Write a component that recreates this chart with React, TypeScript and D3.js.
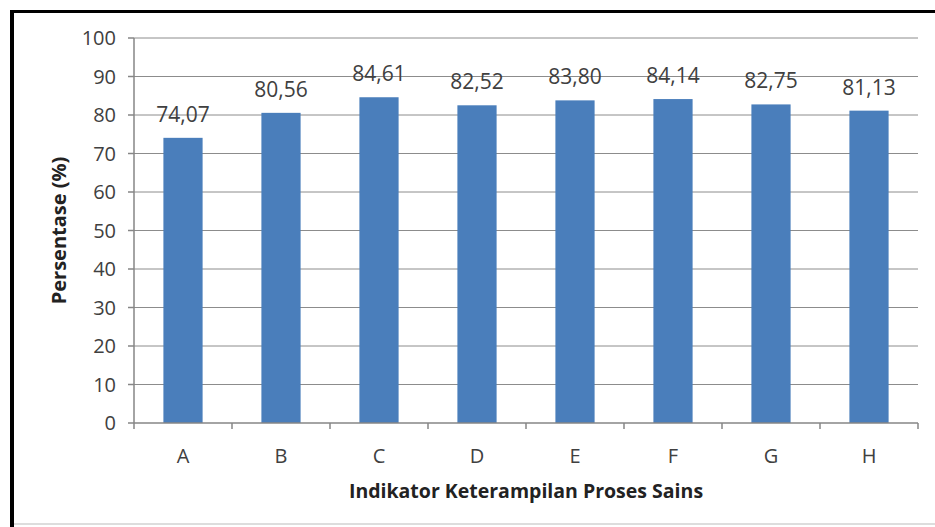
import React from "react";
import * as d3 from "d3";

const categories = ["A", "B", "C", "D", "E", "F", "G", "H"];
const values = [74.07, 80.56, 84.61, 82.52, 83.8, 84.14, 82.75, 81.13];
const valueLabels = ["74,07", "80,56", "84,61", "82,52", "83,80", "84,14", "82,75", "81,13"];
const yTicks = [0, 10, 20, 30, 40, 50, 60, 70, 80, 90, 100];
const xTitle = "Indikator Keterampilan Proses Sains";
const yTitle = "Persentase (%)";

const W = 935;
const H = 527;
const left = 134;
const right = 918;
const top = 38;
const bottom = 423;
const font = "'Open Sans', Lato, sans-serif";
const textColor = "#404040";

export default function App() {
  const x = d3.scaleBand<string>().domain(categories).range([left, right]).paddingInner(0.6).paddingOuter(0.3);
  const xb = d3.scaleBand<string>().domain(categories).range([left, right]);
  const y = d3.scaleLinear().domain([0, 100]).range([bottom, top]);

  return (
    <svg width={W} height={H} style={{ position: "absolute", left: 0, top: 0, background: "#fff" }}>
      <rect x={0} y={0} width={W} height={H} fill="#fff" />
      {/* frame */}
      <line x1={12} x2={W} y1={11.5} y2={11.5} stroke="#000" strokeWidth={3} />
      <line x1={12} x2={12} y1={10} y2={H} stroke="#000" strokeWidth={4} />
      <line x1={14} x2={W} y1={524} y2={524} stroke="#ddd" strokeWidth={2} />
      {/* gridlines */}
      {yTicks.filter((t) => t > 0).map((t) => (
        <line key={t} x1={left} x2={right} y1={y(t)} y2={y(t)} stroke="#8c8c8c" strokeWidth={1} />
      ))}
      {/* bars */}
      {categories.map((c, i) => (
        <rect key={c} x={x(c)!} y={y(values[i])} width={x.bandwidth()} height={y(0) - y(values[i])} fill="#4a7ebb" />
      ))}
      {/* axes */}
      <line x1={left} x2={left} y1={top} y2={bottom} stroke="#868686" strokeWidth={1.5} />
      <line x1={left} x2={right} y1={bottom} y2={bottom} stroke="#868686" strokeWidth={1.5} />
      {yTicks.map((t) => (
        <g key={t}>
          <line x1={left - 6} x2={left} y1={y(t)} y2={y(t)} stroke="#868686" strokeWidth={1.5} />
          <text x={116} y={y(t)} dy="0.35em" textAnchor="end" fontFamily={font} fontSize={20} fill={textColor}>
            {t}
          </text>
        </g>
      ))}
      {categories.map((c) => (
        <line key={"t" + c} x1={xb(c)!} x2={xb(c)!} y1={bottom} y2={bottom + 6} stroke="#868686" strokeWidth={1.5} />
      ))}
      <line x1={right} x2={right} y1={bottom} y2={bottom + 6} stroke="#868686" strokeWidth={1.5} />
      {categories.map((c) => (
        <text key={"l" + c} x={xb(c)! + xb.bandwidth() / 2} y={463} textAnchor="middle" fontFamily={font} fontSize={20} fill={textColor}>
          {c}
        </text>
      ))}
      {categories.map((c, i) => (
        <text key={"v" + c} x={x(c)! + x.bandwidth() / 2} y={y(values[i]) - 16} textAnchor="middle" fontFamily={font} fontSize={21} fill={textColor}>
          {valueLabels[i]}
        </text>
      ))}
      <text x={(left + right) / 2} y={498} textAnchor="middle" fontFamily={font} fontSize={19.5} fontWeight="bold" fill="#222">
        {xTitle}
      </text>
      <text transform={`translate(66, ${(top + bottom) / 2}) rotate(-90)`} textAnchor="middle" fontFamily={font} fontSize={20} fontWeight="bold" fill="#222">
        {yTitle}
      </text>
    </svg>
  );
}
